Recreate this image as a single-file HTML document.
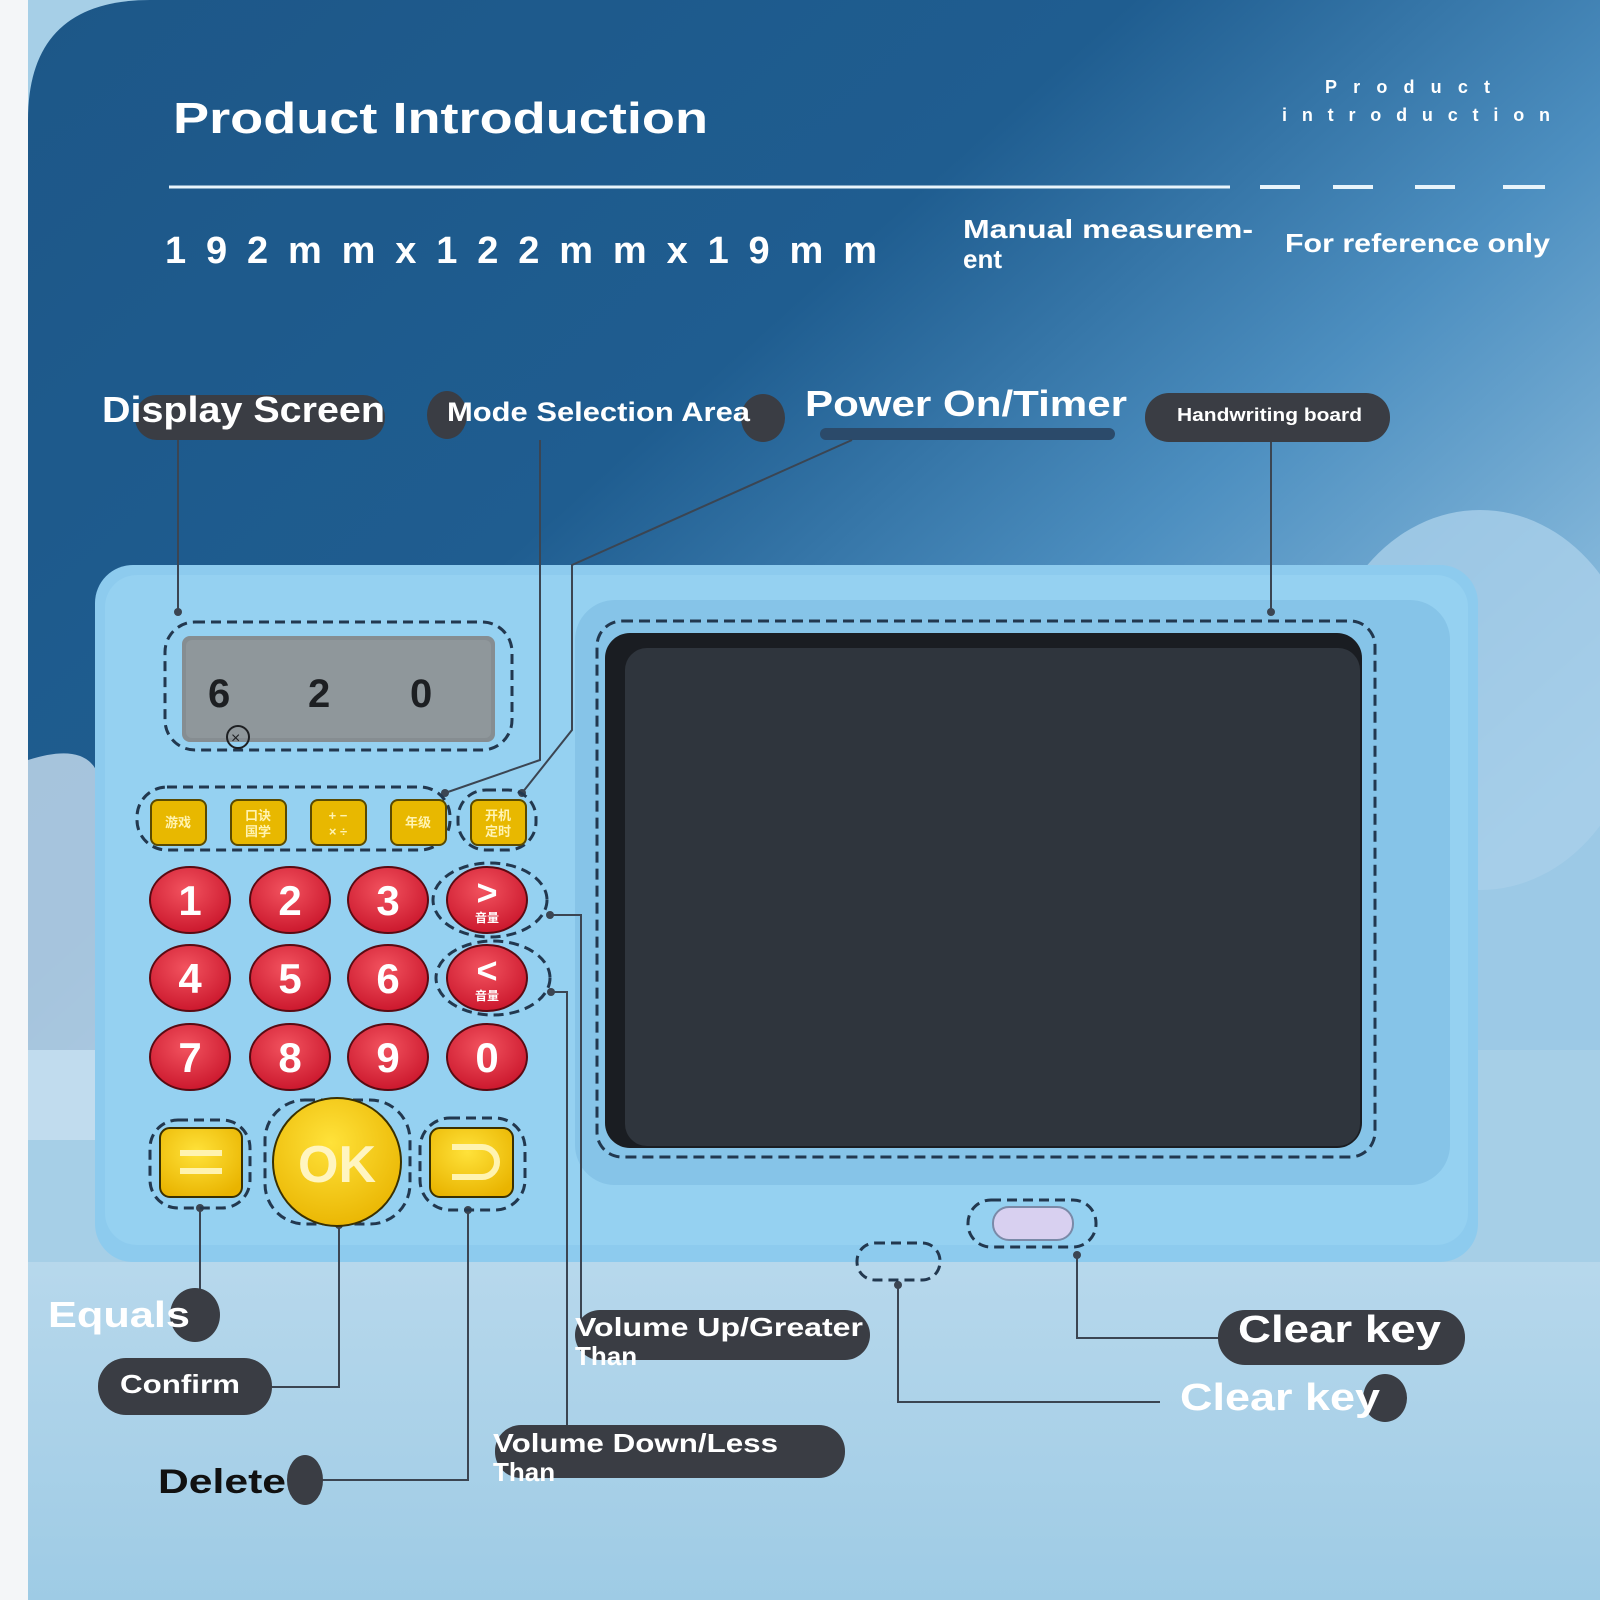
<!DOCTYPE html>
<html><head><meta charset="utf-8"><style>
html,body{margin:0;padding:0;width:1600px;height:1600px;overflow:hidden;background:#f4f6f8}
svg{display:block}
text{font-family:"Liberation Sans","Noto Sans CJK SC",sans-serif}
</style></head><body>
<svg width="1600" height="1600" viewBox="0 0 1600 1600" xmlns="http://www.w3.org/2000/svg">
<defs>
<linearGradient id="bg" x1="0" y1="0" x2="1" y2="0.75">
<stop offset="0" stop-color="#1d5788"/>
<stop offset="0.45" stop-color="#1f5d90"/>
<stop offset="0.7" stop-color="#4d8fc0"/>
<stop offset="1" stop-color="#9cc9e6"/>
</linearGradient>
<linearGradient id="low" x1="0" y1="0" x2="0" y2="1">
<stop offset="0" stop-color="#b7d8ec"/>
<stop offset="1" stop-color="#9ecbe5"/>
</linearGradient>
<radialGradient id="red" cx="0.45" cy="0.35" r="0.7">
<stop offset="0" stop-color="#f2535f"/><stop offset="1" stop-color="#c9142a"/>
</radialGradient>
<radialGradient id="yel" cx="0.45" cy="0.35" r="0.7">
<stop offset="0" stop-color="#ffe23a"/><stop offset="1" stop-color="#e9b400"/>
</radialGradient>
</defs>
<rect x="28" y="0" width="1572" height="1600" fill="#a6cfe7"/>
<path d="M28 120 Q28 0 150 0 L1600 0 L1600 1050 L28 1050 Z" fill="url(#bg)"/>
<rect x="28" y="1262" width="1572" height="338" fill="url(#low)"/>
<path d="M28 760 Q90 740 100 780 L100 1140 L28 1140 Z" fill="#c8dff0" opacity="0.8"/>
<ellipse cx="1480" cy="700" rx="160" ry="190" fill="#a9d0ea" opacity="0.8"/>

<!-- header -->
<text x="173" y="133" font-size="44" font-weight="bold" fill="#fff" textLength="535" lengthAdjust="spacingAndGlyphs">Product Introduction</text>
<text x="1325" y="93" font-size="18" font-weight="bold" fill="#fff" textLength="165" lengthAdjust="spacing">Product</text>
<text x="1282" y="121" font-size="18" font-weight="bold" fill="#fff" textLength="268" lengthAdjust="spacing">introduction</text>
<line x1="169" y1="187" x2="1230" y2="187" stroke="#e8f4fb" stroke-width="3"/>
<g stroke="#e8f4fb" stroke-width="4">
<line x1="1260" y1="187" x2="1300" y2="187"/><line x1="1333" y1="187" x2="1373" y2="187"/>
<line x1="1415" y1="187" x2="1455" y2="187"/><line x1="1503" y1="187" x2="1545" y2="187"/>
</g>
<text x="165" y="263" font-size="38" font-weight="bold" fill="#fff" textLength="712" lengthAdjust="spacing">192mmx122mmx19mm</text>
<text x="963" y="238" font-size="26" font-weight="bold" fill="#fff" textLength="290" lengthAdjust="spacingAndGlyphs">Manual measurem-</text>
<text x="963" y="268" font-size="26" font-weight="bold" fill="#fff">ent</text>
<text x="1285" y="252" font-size="26" font-weight="bold" fill="#fff" textLength="265" lengthAdjust="spacingAndGlyphs">For reference only</text>

<!-- top labels -->
<rect x="135" y="395" width="250" height="45" rx="22" fill="#3a3d44"/>
<text x="102" y="422" font-size="36" font-weight="bold" fill="#fff" textLength="283" lengthAdjust="spacingAndGlyphs">Display Screen</text>
<ellipse cx="447" cy="415" rx="20" ry="24" fill="#3a3d44"/>
<ellipse cx="763" cy="418" rx="22" ry="24" fill="#3a3d44"/>
<text x="447" y="421" font-size="27" font-weight="bold" fill="#fff" textLength="303" lengthAdjust="spacingAndGlyphs">Mode Selection Area</text>
<rect x="820" y="428" width="295" height="12" rx="6" fill="#2b4a6a"/>
<text x="805" y="416" font-size="36" font-weight="bold" fill="#fff" textLength="322" lengthAdjust="spacingAndGlyphs">Power On/Timer</text>
<rect x="1145" y="393" width="245" height="49" rx="24" fill="#3a3d44"/>
<text x="1177" y="421" font-size="18" font-weight="bold" fill="#fff" textLength="185" lengthAdjust="spacingAndGlyphs">Handwriting board</text>

<!-- device -->
<rect x="95" y="565" width="1383" height="697" rx="38" fill="#8dcbee"/>
<rect x="105" y="575" width="1363" height="670" rx="32" fill="#95d1f1"/>
<rect x="575" y="600" width="875" height="585" rx="40" fill="#86c4e8"/>

<!-- connectors -->
<g stroke="#3b4552" stroke-width="2" fill="none">
<polyline points="178,440 178,612"/>
<polyline points="540,440 540,760 445,793"/>
<polyline points="852,440 572,565 572,730 522,793"/>
<polyline points="1271,442 1271,612"/>
<polyline points="550,915 581,915 581,1320"/>
<polyline points="551,992 567,992 567,1432"/>
<polyline points="200,1208 200,1300"/>
<polyline points="339,1225 339,1387 272,1387"/>
<polyline points="468,1210 468,1480 320,1480"/>
<polyline points="1077,1255 1077,1338 1220,1338"/>
<polyline points="898,1285 898,1402 1160,1402"/>
</g>
<g fill="#3b4552">
<circle cx="178" cy="612" r="4"/><circle cx="445" cy="793" r="4"/><circle cx="522" cy="793" r="4"/>
<circle cx="1271" cy="612" r="4"/><circle cx="550" cy="915" r="4"/><circle cx="551" cy="992" r="4"/>
<circle cx="200" cy="1208" r="4"/><circle cx="339" cy="1225" r="4"/><circle cx="468" cy="1210" r="4"/>
<circle cx="1077" cy="1255" r="4"/><circle cx="898" cy="1285" r="4"/>
</g>

<!-- LCD -->
<rect x="165" y="622" width="347" height="128" rx="30" fill="none" stroke="#22384f" stroke-width="3" stroke-dasharray="10,6"/>
<rect x="182" y="636" width="313" height="106" rx="8" fill="#868d91"/>
<rect x="186" y="640" width="305" height="98" rx="6" fill="#8f979b"/>
<text x="208" y="707" font-size="40" font-family="Liberation Mono" font-weight="bold" fill="#1d1f22">6</text>
<text x="308" y="707" font-size="40" font-family="Liberation Mono" font-weight="bold" fill="#1d1f22">2</text>
<text x="410" y="707" font-size="40" font-family="Liberation Mono" font-weight="bold" fill="#1d1f22">0</text>
<circle cx="238" cy="737" r="11" fill="none" stroke="#1d1f22" stroke-width="2"/>
<text x="231" y="743" font-size="16" fill="#1d1f22">×</text>

<!-- mode buttons -->
<rect x="137" y="787" width="313" height="63" rx="30" fill="none" stroke="#22384f" stroke-width="3" stroke-dasharray="10,6"/>
<rect x="458" y="790" width="78" height="60" rx="28" fill="none" stroke="#22384f" stroke-width="3" stroke-dasharray="10,6"/>
<g font-size="13" font-weight="bold" fill="#fff3b0" text-anchor="middle">
<rect x="151" y="800" width="55" height="45" rx="7" fill="#e8b800" stroke="#5a4a00" stroke-width="2"/><text x="178" y="827">游戏</text>
<rect x="231" y="800" width="55" height="45" rx="7" fill="#e8b800" stroke="#5a4a00" stroke-width="2"/><text x="258" y="820">口诀</text><text x="258" y="836">国学</text>
<rect x="311" y="800" width="55" height="45" rx="7" fill="#e8b800" stroke="#5a4a00" stroke-width="2"/><text x="338" y="820">+ −</text><text x="338" y="836">× ÷</text>
<rect x="391" y="800" width="55" height="45" rx="7" fill="#e8b800" stroke="#5a4a00" stroke-width="2"/><text x="418" y="827">年级</text>
<rect x="471" y="800" width="55" height="45" rx="7" fill="#e8b800" stroke="#5a4a00" stroke-width="2"/><text x="498" y="820">开机</text><text x="498" y="836">定时</text>
</g>

<!-- red buttons -->
<ellipse cx="490" cy="900" rx="57" ry="37" fill="none" stroke="#22384f" stroke-width="3" stroke-dasharray="10,6"/>
<ellipse cx="493" cy="978" rx="57" ry="37" fill="none" stroke="#22384f" stroke-width="3" stroke-dasharray="10,6"/>
<g stroke="#5a0a12" stroke-width="2" fill="url(#red)">
<ellipse cx="190" cy="900" rx="40" ry="33"/><ellipse cx="290" cy="900" rx="40" ry="33"/><ellipse cx="388" cy="900" rx="40" ry="33"/><ellipse cx="487" cy="900" rx="40" ry="33"/>
<ellipse cx="190" cy="978" rx="40" ry="33"/><ellipse cx="290" cy="978" rx="40" ry="33"/><ellipse cx="388" cy="978" rx="40" ry="33"/><ellipse cx="487" cy="978" rx="40" ry="33"/>
<ellipse cx="190" cy="1057" rx="40" ry="33"/><ellipse cx="290" cy="1057" rx="40" ry="33"/><ellipse cx="388" cy="1057" rx="40" ry="33"/><ellipse cx="487" cy="1057" rx="40" ry="33"/>
</g>
<g font-size="42" font-weight="bold" fill="#fff" text-anchor="middle">
<text x="190" y="915">1</text><text x="290" y="915">2</text><text x="388" y="915">3</text>
<text x="190" y="993">4</text><text x="290" y="993">5</text><text x="388" y="993">6</text>
<text x="190" y="1072">7</text><text x="290" y="1072">8</text><text x="388" y="1072">9</text><text x="487" y="1072">0</text>
<text x="487" y="905" font-size="36">&gt;</text><text x="487" y="983" font-size="36">&lt;</text>
<text x="487" y="922" font-size="12">音量</text><text x="487" y="1000" font-size="12">音量</text>
</g>

<!-- bottom buttons -->
<rect x="150" y="1120" width="100" height="88" rx="28" fill="none" stroke="#22384f" stroke-width="3" stroke-dasharray="10,6"/>
<rect x="265" y="1100" width="145" height="124" rx="40" fill="none" stroke="#22384f" stroke-width="3" stroke-dasharray="10,6"/>
<rect x="420" y="1118" width="105" height="92" rx="30" fill="none" stroke="#22384f" stroke-width="3" stroke-dasharray="10,6"/>
<rect x="160" y="1128" width="82" height="69" rx="10" fill="url(#yel)" stroke="#3a3000" stroke-width="2"/>
<rect x="180" y="1150" width="42" height="6" fill="#fff3b0"/><rect x="180" y="1168" width="42" height="6" fill="#fff3b0"/>
<circle cx="337" cy="1162" r="64" fill="url(#yel)" stroke="#3a3000" stroke-width="2"/>
<text x="337" y="1182" font-size="52" font-weight="bold" fill="#fff5c0" text-anchor="middle">OK</text>
<rect x="430" y="1128" width="83" height="69" rx="10" fill="url(#yel)" stroke="#3a3000" stroke-width="2"/>
<path d="M452 1147 L482 1147 A15 15 0 0 1 482 1177 L452 1177" fill="none" stroke="#fff3b0" stroke-width="6"/>

<!-- handwriting board -->
<rect x="597" y="621" width="778" height="536" rx="25" fill="none" stroke="#22384f" stroke-width="3" stroke-dasharray="11,6"/>
<rect x="605" y="633" width="757" height="515" rx="25" fill="#1a1d22"/>
<rect x="625" y="648" width="735" height="498" rx="22" fill="#2f353d"/>

<!-- clear keys -->
<rect x="968" y="1200" width="128" height="47" rx="23" fill="none" stroke="#22384f" stroke-width="3" stroke-dasharray="10,6"/>
<rect x="993" y="1207" width="80" height="33" rx="16" fill="#d8d0f0" stroke="#7a8aa8" stroke-width="2"/>
<rect x="857" y="1243" width="83" height="37" rx="18" fill="none" stroke="#22384f" stroke-width="3" stroke-dasharray="10,6"/>

<!-- bottom labels -->
<ellipse cx="195" cy="1315" rx="25" ry="27" fill="#3a3d44"/>
<text x="48" y="1327" font-size="36" font-weight="bold" fill="#fff" textLength="142" lengthAdjust="spacingAndGlyphs">Equals</text>
<rect x="98" y="1358" width="174" height="57" rx="28" fill="#3a3d44"/>
<text x="120" y="1393" font-size="26" font-weight="bold" fill="#fff" textLength="120" lengthAdjust="spacingAndGlyphs">Confirm</text>
<ellipse cx="305" cy="1480" rx="18" ry="25" fill="#3a3d44"/>
<text x="158" y="1493" font-size="34" font-weight="bold" fill="#111" textLength="128" lengthAdjust="spacingAndGlyphs">Delete</text>
<rect x="575" y="1310" width="295" height="50" rx="25" fill="#3a3d44"/>
<text x="575" y="1336" font-size="26" font-weight="bold" fill="#fff" textLength="288" lengthAdjust="spacingAndGlyphs">Volume Up/Greater</text>
<text x="575" y="1365" font-size="26" font-weight="bold" fill="#fff">Than</text>
<rect x="495" y="1425" width="350" height="53" rx="26" fill="#3a3d44"/>
<text x="493" y="1452" font-size="26" font-weight="bold" fill="#fff" textLength="285" lengthAdjust="spacingAndGlyphs">Volume Down/Less</text>
<text x="493" y="1481" font-size="26" font-weight="bold" fill="#fff">Than</text>
<rect x="1218" y="1310" width="247" height="55" rx="27" fill="#3a3d44"/>
<text x="1238" y="1342" font-size="38" font-weight="bold" fill="#fff" textLength="203" lengthAdjust="spacingAndGlyphs">Clear key</text>
<ellipse cx="1385" cy="1398" rx="22" ry="24" fill="#3a3d44"/>
<text x="1180" y="1410" font-size="38" font-weight="bold" fill="#fff" textLength="200" lengthAdjust="spacingAndGlyphs">Clear key</text>
</svg>
</body></html>
